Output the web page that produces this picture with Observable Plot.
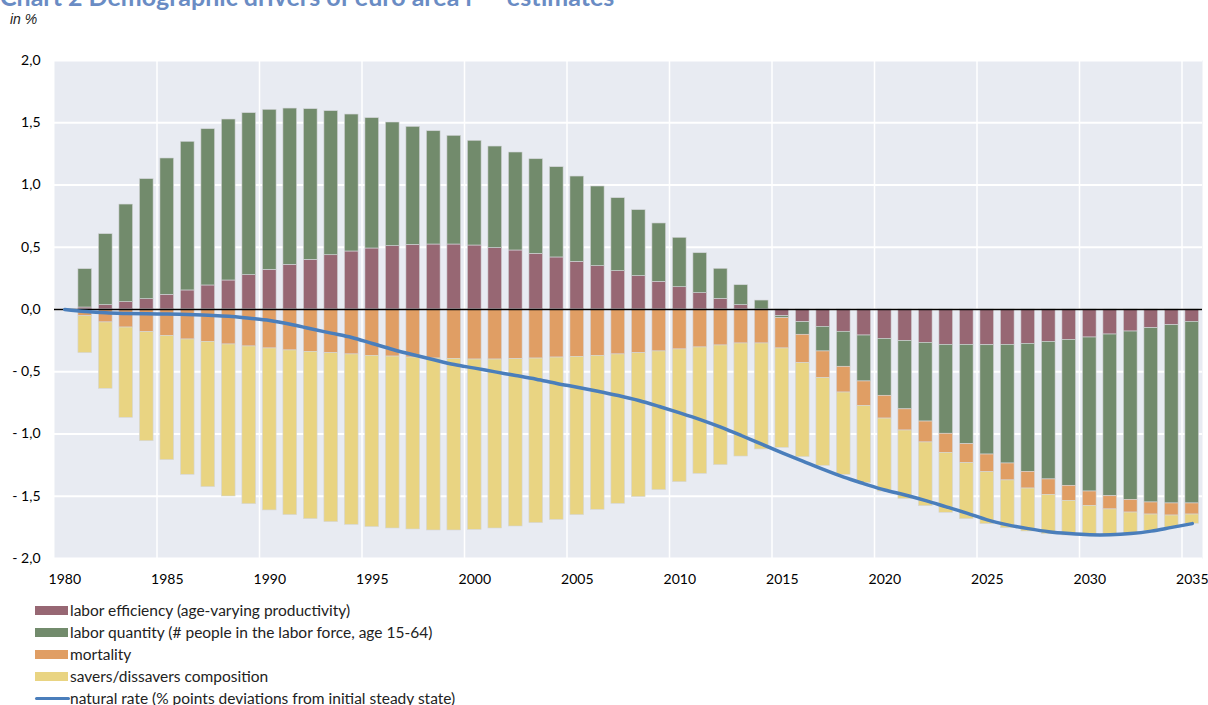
<!DOCTYPE html>
<html><head><meta charset="utf-8">
<script src="https://cdn.jsdelivr.net/npm/d3@7"></script>
<script src="https://cdn.jsdelivr.net/npm/@observablehq/plot@0.6"></script>
<style>
body{margin:0;background:#fff;font-family:Lato,"Open Sans",sans-serif;}
#wrap{position:relative;width:1208px;height:705px;overflow:hidden;}
#title{position:absolute;left:0;top:-17px;font-size:25px;font-weight:bold;color:#6a8cc4;white-space:nowrap;line-height:26px;}
#unit{position:absolute;left:10px;top:11px;font-size:14px;font-style:italic;color:#222;font-family:"Liberation Sans",Arial,sans-serif;}
#chart{position:absolute;left:0;top:0;}
#legend{position:absolute;left:35px;top:599px;font-size:15.5px;color:#222;}
.row{height:22px;display:flex;align-items:center;white-space:nowrap;}
.sw{width:33px;height:9px;margin-right:2px;}
.ln{width:35px;height:3px;border-radius:2px;margin-right:0px;}
</style></head>
<body>
<div id="wrap">
  <div id="title">Chart 2 Demographic drivers of euro area r* - estimates</div>
  <div id="unit">in %</div>
  <div id="chart"></div>
  <div id="legend"></div>
</div>
<script>
const years = [1980,1981,1982,1983,1984,1985,1986,1987,1988,1989,1990,1991,1992,1993,1994,1995,1996,1997,1998,1999,2000,2001,2002,2003,2004,2005,2006,2007,2008,2009,2010,2011,2012,2013,2014,2015,2016,2017,2018,2019,2020,2021,2022,2023,2024,2025,2026,2027,2028,2029,2030,2031,2032,2033,2034,2035];
const efficiency = [0,0.016,0.035,0.059,0.083,0.118,0.153,0.193,0.233,0.276,0.319,0.359,0.399,0.436,0.466,0.490,0.509,0.519,0.522,0.522,0.514,0.493,0.474,0.447,0.418,0.383,0.348,0.308,0.268,0.222,0.179,0.131,0.086,0.035,0.000,-0.054,-0.102,-0.139,-0.179,-0.209,-0.236,-0.253,-0.268,-0.284,-0.284,-0.287,-0.284,-0.276,-0.260,-0.244,-0.225,-0.201,-0.177,-0.150,-0.126,-0.099];
const quantity = [0,0.308,0.570,0.784,0.964,1.095,1.194,1.255,1.293,1.301,1.285,1.255,1.210,1.157,1.100,1.047,0.993,0.948,0.910,0.873,0.841,0.816,0.787,0.760,0.725,0.685,0.640,0.586,0.530,0.469,0.397,0.321,0.241,0.160,0.072,-0.016,-0.101,-0.198,-0.281,-0.369,-0.457,-0.549,-0.632,-0.714,-0.798,-0.878,-0.953,-1.028,-1.105,-1.172,-1.237,-1.299,-1.352,-1.400,-1.432,-1.459];
const mortality = [0,-0.054,-0.104,-0.145,-0.182,-0.212,-0.241,-0.260,-0.281,-0.297,-0.313,-0.329,-0.340,-0.351,-0.361,-0.372,-0.378,-0.386,-0.394,-0.396,-0.402,-0.402,-0.399,-0.394,-0.386,-0.380,-0.372,-0.361,-0.351,-0.337,-0.321,-0.305,-0.289,-0.273,-0.273,-0.243,-0.228,-0.214,-0.207,-0.196,-0.183,-0.170,-0.168,-0.153,-0.152,-0.142,-0.136,-0.134,-0.124,-0.121,-0.115,-0.106,-0.102,-0.097,-0.097,-0.089];
const savers = [0,-0.297,-0.533,-0.725,-0.876,-0.998,-1.087,-1.167,-1.221,-1.267,-1.301,-1.323,-1.344,-1.357,-1.369,-1.376,-1.381,-1.381,-1.381,-1.379,-1.368,-1.357,-1.344,-1.322,-1.304,-1.272,-1.237,-1.200,-1.156,-1.114,-1.066,-1.015,-0.961,-0.908,-0.851,-0.798,-0.755,-0.705,-0.661,-0.621,-0.586,-0.550,-0.512,-0.482,-0.450,-0.417,-0.384,-0.345,-0.316,-0.278,-0.246,-0.215,-0.176,-0.134,-0.099,-0.074];
const naturalRate = [0,-0.016,-0.027,-0.032,-0.035,-0.037,-0.040,-0.046,-0.054,-0.070,-0.088,-0.118,-0.155,-0.190,-0.225,-0.273,-0.321,-0.364,-0.404,-0.442,-0.471,-0.501,-0.530,-0.560,-0.594,-0.624,-0.656,-0.691,-0.731,-0.779,-0.830,-0.884,-0.945,-1.012,-1.082,-1.151,-1.218,-1.285,-1.347,-1.400,-1.450,-1.490,-1.535,-1.585,-1.635,-1.690,-1.730,-1.760,-1.785,-1.800,-1.810,-1.810,-1.800,-1.780,-1.750,-1.720];

const seriesNames = [
  "labor efficiency (age-varying productivity)",
  "labor quantity (# people in the labor force, age 15-64)",
  "mortality",
  "savers/dissavers composition"
];
const lineName = "natural rate (% points deviations from initial steady state)";
const seriesColors = ["#976773", "#728b6c", "#e09e64", "#e9d482"];
const lineColor = "#4a7ebb";
const xTicks = [1980,1985,1990,1995,2000,2005,2010,2015,2020,2025,2030,2035];
const yTicks = [-2,-1.5,-1,-0.5,0,0.5,1,1.5,2];
const gridYears = [1985,1990,1995,2000,2005,2010,2015,2020,2025,2030,2035];

const seriesValues = [efficiency, quantity, mortality, savers];
const rows = [];
seriesNames.forEach((name, s) => years.forEach((yr, i) => rows.push({year: yr, series: name, value: seriesValues[s][i]})));
const lineData = years.map((yr, i) => ({year: yr, rate: naturalRate[i]}));

const fmt = d => {
  const s = Math.abs(d).toFixed(1).replace(".", ",");
  return d < 0 ? "- " + s : s;
};

const chart = Plot.plot({
  width: 1208, height: 600,
  marginTop: 60, marginBottom: 42, marginLeft: 54, marginRight: 6,
  style: {fontFamily: "Lato, 'Open Sans', sans-serif", fontSize: "14px", color: "#000", background: "transparent"},
  x: {domain: [1979.5, 2035.5], ticks: xTicks, tickFormat: d => String(d), tickSize: 0, tickPadding: 16, label: null},
  y: {domain: [-2, 2], ticks: yTicks, tickFormat: fmt, tickSize: 0, tickPadding: 14, label: null},
  color: {domain: seriesNames, range: seriesColors},
  marks: [
    Plot.frame({fill: "#e8ebf2", stroke: "none"}),
    Plot.ruleY(yTicks, {stroke: "#fff", strokeWidth: 2}),
    Plot.ruleX(gridYears, {x: d => d - 0.5, stroke: "#fff", strokeWidth: 1.5}),
    Plot.rectY(rows, Plot.stackY({
      x1: d => d.year - 0.5, x2: d => d.year + 0.5, y: "value", fill: "series",
      insetLeft: 3.4, insetRight: 3.4, stroke: "#d4d6da", strokeWidth: 0.6
    })),
    Plot.ruleY([0], {stroke: "#000", strokeWidth: 1.6}),
    Plot.line(lineData, {x: "year", y: "rate", stroke: lineColor, strokeWidth: 3.5, curve: "catmull-rom"})
  ]
});
document.getElementById("chart").appendChild(chart);

const legend = document.getElementById("legend");
seriesNames.forEach((name, i) => {
  const r = document.createElement("div"); r.className = "row";
  const sw = document.createElement("span"); sw.className = "sw"; sw.style.background = seriesColors[i];
  const t = document.createElement("span"); t.textContent = name;
  r.appendChild(sw); r.appendChild(t); legend.appendChild(r);
});
{
  const r = document.createElement("div"); r.className = "row";
  const sw = document.createElement("span"); sw.className = "ln"; sw.style.background = lineColor;
  const t = document.createElement("span"); t.textContent = lineName;
  r.appendChild(sw); r.appendChild(t); legend.appendChild(r);
}
</script>
</body></html>
